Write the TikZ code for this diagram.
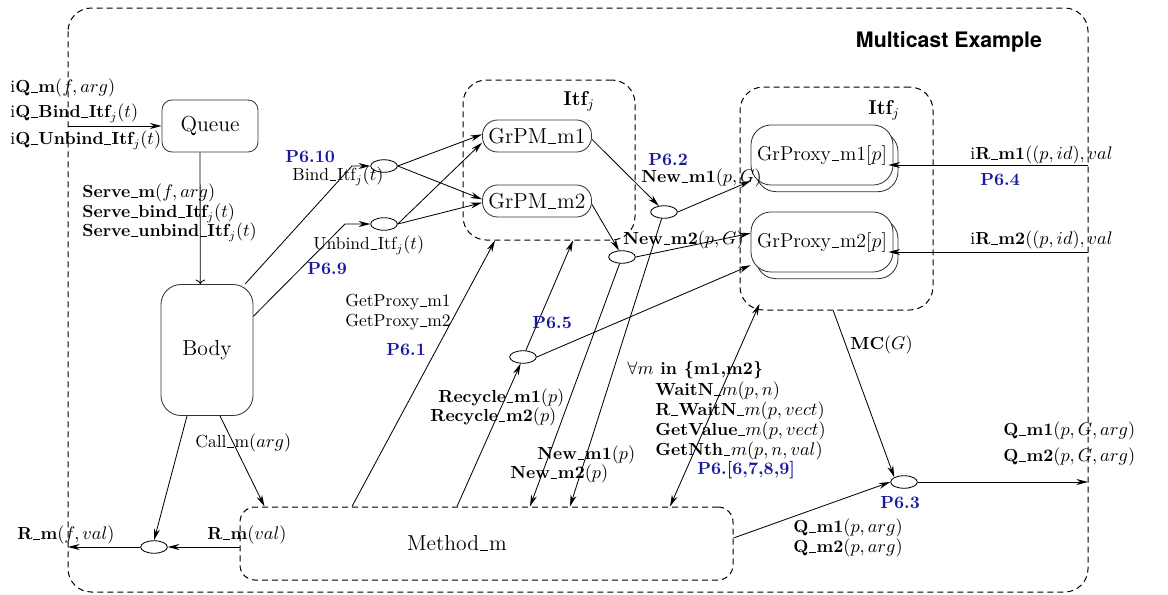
\documentclass[tikz,border=0pt]{standalone}
\usepackage{fontspec}
\usepackage{amssymb}
\usetikzlibrary{arrows.meta,shapes.geometric,shadows}
\newfontfamily\herosfont{TeX Gyre Heros}
\definecolor{pblue}{RGB}{25,25,160}
\newcommand{\us}{\kern.04em\rule[-.1ex]{.38em}{.05em}\kern.04em}

\begin{document}
\begin{tikzpicture}[x=0.6pt,y=-0.6pt,line width=0.5pt,
  arr/.style={-{Stealth[length=7pt,width=3.6pt]}},
  dbox/.style={draw=black,line width=0.6pt,dash pattern=on 3.6pt off 2.4pt,rounded corners=9pt},
  proc/.style={draw=black!80,fill=white,rounded corners=#1,font=\fontsize{13}{15}\selectfont,inner sep=0pt},
  junc/.style={draw,ellipse,minimum width=16pt,minimum height=7.5pt,inner sep=0pt},
  lbl/.style={anchor=west,inner sep=0pt,font=\fontsize{10.5}{12}\selectfont\bfseries},
  rlbl/.style={anchor=west,inner sep=0pt,font=\fontsize{10.5}{12}\selectfont},
  plbl/.style={anchor=west,inner sep=0pt,font=\fontsize{10.5}{12}\selectfont\bfseries,text=pblue}]
\useasboundingbox (0,0) rectangle (1168,595);
%%%%%%%%%%%%%%%%%%%% frame and title %%%%%%%%%%%%%%%%%%%%
\draw[dbox,rounded corners=14pt] (68,8) rectangle (1088,592);
\node[font=\herosfont\bfseries\fontsize{12.8}{15}\selectfont] (title) at (949,42) {Multicast Example};
\coordinate (inQ) at (68,126);
\coordinate (outR) at (68,547);
\coordinate (outQ) at (1088,482);
\coordinate (inR1) at (1088,165);
\coordinate (inR2) at (1088,252);
%%%%%%%%%%%%%%%%%%%% queue, body, method %%%%%%%%%%%%%%%%%%%%
\node[proc=6pt,minimum width=57.6pt,minimum height=31.2pt] (queue) at (210,126) {Queue};
\node[proc=12pt,minimum width=55.2pt,minimum height=78.6pt] (body) at (207,350) {Body};
\node[dbox,minimum width=295.8pt,minimum height=43.8pt,
  label={[xshift=-17.7pt,font=\fontsize{13}{15}\selectfont]center:Method\us m}] (meth) at (486.5,543.5) {};
%%%%%%%%%%%%%%%%%%%% the two Itf_j groups %%%%%%%%%%%%%%%%%%%%
\node[dbox,rounded corners=14pt,minimum width=103.2pt,minimum height=96pt] (itfL) at (549,160) {};
\node[lbl,font=\bfseries\large] (itfLt) at (563,101) {Itf$_j$};
\node[proc=9pt,minimum width=65.4pt,minimum height=19.2pt] (pm1) at (537,136) {GrPM\us m1};
\node[proc=9pt,minimum width=65.4pt,minimum height=19.2pt] (pm2) at (537,201) {GrPM\us m2};
\node[dbox,rounded corners=14pt,minimum width=115.8pt,minimum height=133.8pt] (itfR) at (836.5,198.5) {};
\node[lbl,font=\bfseries\large] (itfRt) at (868,110) {Itf$_j$};
\node[proc=12pt,minimum width=85.2pt,minimum height=36pt,font=\fontsize{12}{14}\selectfont,
  copy shadow={shadow xshift=3pt,shadow yshift=-4pt,draw=black!80,fill=white}] (px1) at (822,155) {GrProxy\us m1$[p]$};
\node[proc=12pt,minimum width=85.2pt,minimum height=36pt,font=\fontsize{12}{14}\selectfont,
  copy shadow={shadow xshift=3pt,shadow yshift=-4pt,draw=black!80,fill=white}] (px2) at (822,242) {GrProxy\us m2$[p]$};
%%%%%%%%%%%%%%%%%%%% junctions %%%%%%%%%%%%%%%%%%%%
\node[junc] (eBind) at (384,166) {};
\node[junc] (eUnbind) at (384,224) {};
\node[junc] (eNew1) at (664,212) {};
\node[junc] (eNew2) at (622,257) {};
\node[junc] (eRec) at (523,357) {};
\node[junc] (eQ) at (904,482) {};
\node[junc] (eR) at (154,547) {};
%%%%%%%%%%%%%%%%%%%% connectors %%%%%%%%%%%%%%%%%%%%
\draw[arr] (inQ) -- (queue.west);
\draw[->] ([xshift=-6pt]queue.south) -- ([xshift=-4pt]body.north);
\draw[arr] (body.60) -- (352,166) -- (eBind.west);
\draw[arr] (body.36) -- (345,224) -- (eUnbind.west);
\draw[arr] (eBind.east) -- ([yshift=1pt]pm1.west);
\draw[arr] (eBind.east) -- ([yshift=1pt]pm2.west);
\draw[arr] (eUnbind.east) -- ([yshift=-4pt]pm1.west);
\draw[arr] (eUnbind.east) -- ([yshift=-1pt]pm2.west);
\draw[arr] ([yshift=-2pt]pm1.east) -- (eNew1.130);
\draw[arr] ([yshift=-2pt]pm2.east) -- (eNew2.115);
\draw[arr] (eNew1.east) -- (px1.200);
\draw[arr] (eNew2.east) -- (px2.173);
\draw[arr] (eRec.east) -- (px2.198);
\draw[arr] (eRec) -- ([xshift=14.4pt]itfL.south);
\draw[arr] ([xshift=-17.7pt]meth.north) -- (eRec.250);
\draw[arr] ([xshift=-80.7pt]meth.north) -- ([xshift=-32.4pt]itfL.south);
\draw[arr] (eNew2.250) -- ([xshift=26.1pt]meth.north);
\draw[arr] (eNew1.250) -- ([xshift=50.1pt]meth.north);
\draw[{Stealth[length=7pt,width=3.6pt]}-{Stealth[length=7pt,width=3.6pt]}]
  ([xshift=110.1pt]meth.north) -- ([shift={(12pt,4pt)}]itfR.south west);
\draw[arr] ([xshift=-2pt]itfR.south) -- (eQ.north west);
\draw[arr] ([yshift=3.3pt]meth.east) -- (eQ.west);
\draw[arr] (eQ.east) -- (outQ);
\draw[arr,shorten >=-3pt] (inR1) -- (px1.east |- inR1);
\draw[arr,shorten >=-3pt] (inR2) -- (px2.east |- inR2);
\draw[arr] (meth.west |- eR) -- (eR.east);
\draw[arr] (eR.west) -- (outR);
\draw[arr] ([xshift=-12pt]body.south) -- (eR.north);
\draw[arr] ([xshift=7.8pt]body.south) -- ([xshift=15pt]meth.north west);
%%%%%%%%%%%%%%%%%%%% labels %%%%%%%%%%%%%%%%%%%%
\node[lbl] (l1) at (10,88) {{\mdseries i}Q\us m$(f,arg)$};
\node[lbl] (l2) at (10,113) {{\mdseries i}Q\us Bind\us Itf$_j(t)$};
\node[lbl] (l3) at (10,140) {{\mdseries i}Q\us Unbind\us Itf$_j(t)$};
\node[lbl] (l4) at (82,193) {Serve\us m$(f,arg)$};
\node[lbl] (l5) at (82,213) {Serve\us bind\us Itf$_j(t)$};
\node[lbl] (l6) at (82,232) {Serve\us unbind\us Itf$_j(t)$};
\node[plbl] (p610) at (285,157) {P6.10};
\node[rlbl] (l7) at (292,176) {Bind\us Itf$_j(t)$};
\node[rlbl] (l8) at (313,245) {Unbind\us Itf$_j(t)$};
\node[plbl] (p69) at (307,269) {P6.9};
\node[rlbl] (l9) at (345,302) {GetProxy\us m1};
\node[rlbl] (l10) at (345,322) {GetProxy\us m2};
\node[plbl] (p61) at (386,350) {P6.1};
\node[plbl] (p65) at (532,323) {P6.5};
\node[plbl] (p62) at (648,160) {P6.2};
\node[lbl] (l11) at (641,178) {New\us m1$(p,G)$};
\node[lbl] (l12) at (623,240) {New\us m2$(p,G)$};
\node[lbl] (l13) at (438,398) {Recycle\us m1$(p)$};
\node[lbl] (l14) at (430,417) {Recycle\us m2$(p)$};
\node[lbl] (l15) at (537,455) {New\us m1$(p)$};
\node[lbl] (l16) at (510,474) {New\us m2$(p)$};
\node[lbl] (l17) at (627,370) {$\forall m$ in \{m1,m2\}};
\node[lbl] (l18) at (655,391) {WaitN\us$m(p,n)$};
\node[lbl] (l19) at (655,411) {R\us WaitN\us$m(p,vect)$};
\node[lbl] (l20) at (655,431) {GetValue\us$m(p,vect)$};
\node[lbl] (l21) at (655,451) {GetNth\us$m(p,n,val)$};
\node[plbl] (p66) at (697,470) {P6.[6,7,8,9]};
\node[lbl] (l22) at (850,345) {MC$(G)$};
\node[plbl] (p63) at (880,503) {P6.3};
\node[lbl] (l23) at (793,528) {Q\us m1$(p,arg)$};
\node[lbl] (l24) at (793,548) {Q\us m2$(p,arg)$};
\node[lbl] (l25) at (1003,431) {Q\us m1$(p,G,arg)$};
\node[lbl] (l26) at (1003,457) {Q\us m2$(p,G,arg)$};
\node[lbl] (l27) at (970,155) {{\mdseries i}R\us m1$((p,id),val$};
\node[plbl] (p64) at (980,180) {P6.4};
\node[lbl] (l28) at (970,240) {{\mdseries i}R\us m2$((p,id),val$};
\node[lbl] (l29) at (17,535) {R\us m$(f,val)$};
\node[lbl] (l30) at (207,535) {R\us m$(val)$};
\node[rlbl] (l31) at (195,443) {Call\us m$(arg)$};
\end{tikzpicture}
\end{document}
